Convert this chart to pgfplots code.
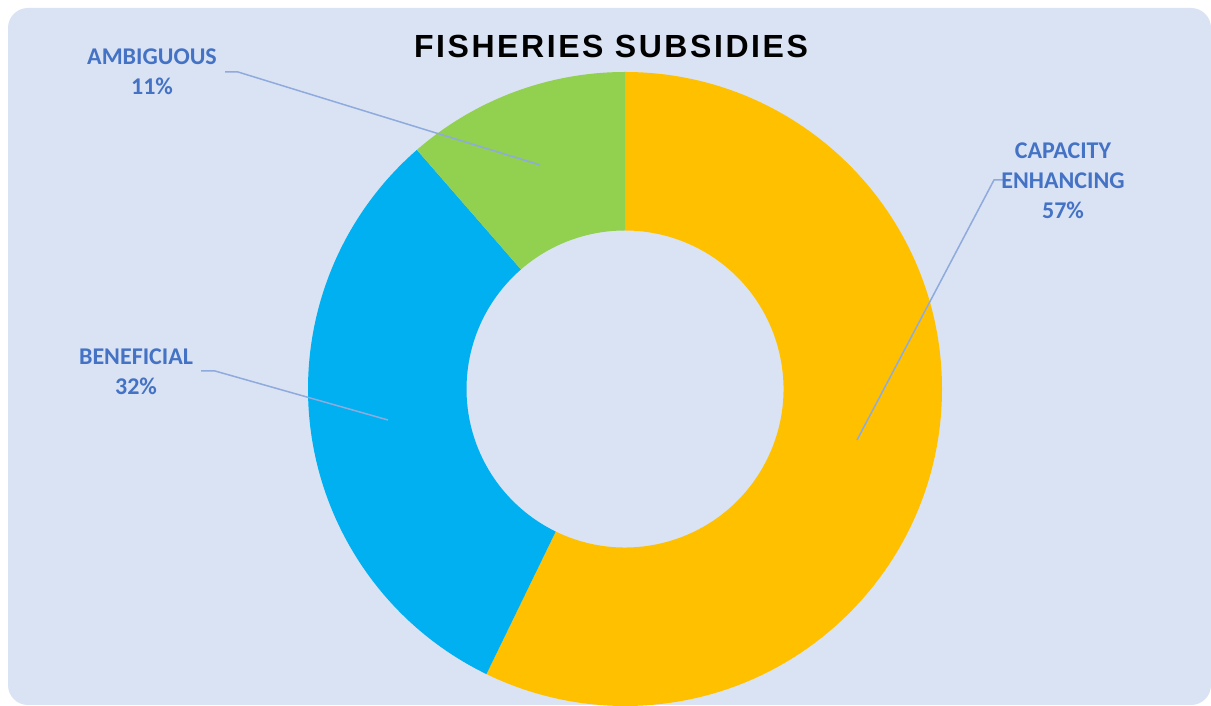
\documentclass[border=0pt]{standalone}
\usepackage{fontspec}
\setmainfont{Carlito}
\newfontfamily\titlefont{Liberation Sans}[LetterSpace=8]
\usepackage{pgfplots}
\usepackage{pgfplotstable}
\pgfplotsset{compat=1.18}
\definecolor{bg}{HTML}{DAE3F3}
\definecolor{capcol}{HTML}{FFC000}
\definecolor{bencol}{HTML}{00B0F0}
\definecolor{ambcol}{HTML}{92D050}
\definecolor{labcol}{HTML}{4472C4}
\definecolor{leadcol}{HTML}{8FAADC}

\pgfplotstableread{
label share
CapacityEnhancing 57.2
Beneficial 31.4
Ambiguous 11.4
}\donutdata

% ring segment: start angle, end angle, colour
\newcommand\ring[3]{%
  \fill[#3] (axis cs:625,317) ++(#1:158.5pt)
    arc[start angle=#1,end angle=#2,radius=158.5pt]
    -- ++(#2+180:79.25pt)
    arc[start angle=#2,end angle=#1,radius=79.25pt] -- cycle;}

\begin{document}
\begin{tikzpicture}
\pgfplotstablegetelem{0}{share}\of\donutdata \let\vA\pgfplotsretval
\pgfplotstablegetelem{1}{share}\of\donutdata \let\vB\pgfplotsretval
\pgfplotstablegetelem{2}{share}\of\donutdata \let\vC\pgfplotsretval
\pgfmathsetmacro{\tot}{\vA+\vB+\vC}
\pgfmathsetmacro{\aA}{90}
\pgfmathsetmacro{\aB}{\aA-\vA/\tot*360}
\pgfmathsetmacro{\aC}{\aB-\vB/\tot*360}
\pgfmathsetmacro{\aD}{\aC-\vC/\tot*360}
\begin{axis}[
  scale only axis, width=605.5pt, height=353pt,
  xmin=0, xmax=1211, ymin=0, ymax=706,
  axis lines=none, clip=false]
\fill[white] (axis cs:0,0) rectangle (axis cs:1211,706);
\fill[bg, rounded corners=10pt] (axis cs:8,1) rectangle (axis cs:1211,698);
\ring{\aA}{\aB}{capcol}
\ring{\aB}{\aC}{bencol}
\ring{\aC}{\aD}{ambcol}
% leader lines
\draw[leadcol, line width=0.75pt] (axis cs:225,634) -- (axis cs:238,634) -- (axis cs:540,541);
\draw[leadcol, line width=0.75pt] (axis cs:1006,526) -- (axis cs:994,526) -- (axis cs:857,266);
\draw[leadcol, line width=0.75pt] (axis cs:201,335) -- (axis cs:215,335) -- (axis cs:388,286);
% labels
\node[labcol, align=center, font=\fontsize{12}{15}\selectfont\bfseries] at (axis cs:152,634) {AMBIGUOUS\\11\%};
\node[labcol, align=center, font=\fontsize{12}{15}\selectfont\bfseries] at (axis cs:1063,525) {CAPACITY\\ENHANCING\\57\%};
\node[labcol, align=center, font=\fontsize{12}{15}\selectfont\bfseries] at (axis cs:136,334.5) {BENEFICIAL\\32\%};
% title
\node[anchor=base, font=\titlefont\fontsize{16}{19}\selectfont\bfseries] at (axis cs:611,648) {FISHERIES SUBSIDIES};
\end{axis}
\end{tikzpicture}
\end{document}
